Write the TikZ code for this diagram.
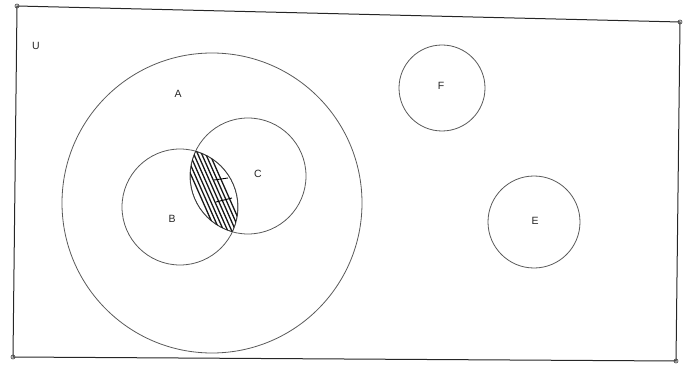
\documentclass[tikz,border=0pt]{standalone}
\usepackage{fontspec}
\setmainfont{Liberation Sans}
\begin{document}
\begin{tikzpicture}[x=1pt,y=-1pt,
  set/.style={draw=black!65,line width=0.8pt},
  lbl/.style={font=\fontsize{10.5}{12}\selectfont,text=black!85},
  corner/.style={circle,draw=black!80,line width=0.6pt,inner sep=0pt,minimum size=4pt}]
\useasboundingbox (0,0) rectangle (684,371);
% universe
\coordinate (tl) at (17,6);
\coordinate (tr) at (680,22);
\coordinate (br) at (676,361);
\coordinate (bl) at (13,357);
\draw[black!85,line width=1pt] (tl) -- (tr) -- (br) -- (bl) -- cycle;
\foreach \c in {tl,tr,br,bl} \node[corner] at (\c) {};
% sets
\node[set,circle,minimum size=300pt,inner sep=0pt] (A) at (212,203) {};
\node[set,circle,minimum size=116pt,inner sep=0pt] (B) at (180,207) {};
\node[set,circle,minimum size=116pt,inner sep=0pt] (C) at (248,176) {};
\node[set,circle,minimum size=86pt,inner sep=0pt] (F) at (442,88) {};
\node[set,circle,minimum size=92pt,inner sep=0pt] (E) at (534,222) {};
% hatching of B cap C
\begin{scope}
\clip (180,207) circle (58);
\clip (248,176) circle (58);
\draw[black!80,line width=1pt] (180,207) circle (58);
\draw[black!80,line width=1pt] (248,176) circle (58);
\foreach \dx in {-12,-8,-4,0,4,8,12,16}
  \draw[black!90,line width=1.3pt] ({192+\dx},{150}) -- ({230+\dx},{236});
\draw[black,line width=0.9pt] (214,180) -- (228,178) (216,202) -- (232,198);
\end{scope}
% labels
\node[lbl] (lU) at (36,46) {U};
\node[lbl] (lA) at (178,94) {A};
\node[lbl] (lB) at (172,219) {B};
\node[lbl] (lC) at (258,174) {C};
\node[lbl] (lF) at (441,86) {F};
\node[lbl] (lE) at (535,221) {E};
\end{tikzpicture}
\end{document}
